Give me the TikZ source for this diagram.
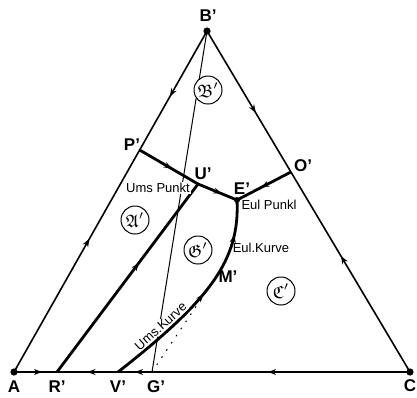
\documentclass[tikz,border=0pt]{standalone}
\usepackage{amsmath, amssymb}
\usepackage{fontspec}
\setmainfont{Liberation Sans}
\usepackage{tikz}
\usetikzlibrary{arrows.meta,calc,decorations.markings}

\begin{document}
\begin{tikzpicture}[x=0.5pt, y=-0.5pt, >=Stealth,
    rim/.style={line width=0.8pt},
    heavy/.style={line width=1.4pt},
    fine/.style={line width=0.5pt},
    flow/.style={postaction={decorate}, decoration={markings,
        mark=at position #1 with {\arrow{Stealth[length=4pt,width=3pt]}}}},
    twoflow/.style 2 args={postaction={decorate}, decoration={markings,
        mark=at position #1 with {\arrow{Stealth[length=4pt,width=3pt]}},
        mark=at position #2 with {\arrow{Stealth[length=4pt,width=3pt]}}}},
    pt/.style={font=\bfseries\fontsize{8.5}{9}\selectfont, inner sep=0.5pt},
    note/.style={font=\fontsize{6.5}{7}\selectfont, inner sep=0.5pt},
    region/.style={draw, circle, line width=0.5pt, fill=white, minimum size=14pt,
        inner sep=0pt, font=\fontsize{9}{9}\selectfont}]
    \useasboundingbox (0,0) rectangle (417,397);

    \coordinate (A) at (14,372);
    \coordinate (C) at (410,372);
    \coordinate (B) at (207,31);
    \coordinate (P) at ($(A)!0.651!(B)$);
    \coordinate (O) at ($(C)!0.5865!(B)$);
    \coordinate (U) at (198,184);
    \coordinate (E) at (237,200);
    \coordinate (R) at (57,372);
    \coordinate (V) at (118,372);
    \coordinate (G) at (152,372);

    \draw[fine] (B) -- (G);

    \draw[rim, flow=0.6] (A) -- (P);
    \draw[rim, flow=0.55] (B) -- (P);
    \draw[rim, flow=0.58] (B) -- (O);
    \draw[rim, flow=0.58] (C) -- (O);
    \draw[rim, flow=0.65] (A) -- (R);
    \draw[rim, flow=0.5] (V) -- (R);
    \draw[rim, flow=0.5] (G) -- (V);
    \draw[rim, flow=0.55] (C) -- (G);

    \draw[heavy, flow=0.58] (R) -- (U);
    \draw[heavy, flow=0.55] (P) -- (U);
    \draw[heavy, flow=0.6] (U) -- (E);
    \draw[heavy, flow=0.55] (O) -- (E);
    \draw[heavy, twoflow={0.53}{0.84}] (V) .. controls (210,300) and (240,260) ..
        node[pos=0.2, sloped, above=0.5pt, note, fill=white] (umskurve) {Ums.Kurve}
        coordinate[pos=0.47] (M) (E);
    \draw[fine, dash pattern=on 0.8pt off 3.5pt] (G) -- (M);

    \fill (A) circle (1.8pt);
    \fill (C) circle (1.8pt);
    \fill (B) circle (1.8pt);
    \fill (E) circle (1.5pt);
    \fill (U) circle (0.8pt);

    \node[region] (bb) at (208,90) {$\mathfrak{B}'$};
    \node[region] (aa) at (135,220) {$\mathfrak{A}'$};
    \node[region] (gg) at (198,250) {$\mathfrak{G}'$};
    \node[region] (cc) at (281,291) {$\mathfrak{C}'$};

    \node[pt] (lB) at (208,16) {B'};
    \node[pt] (lA) at (14,387) {A};
    \node[pt] (lC) at (410,386) {C};
    \node[pt] (lP) at (132,145) {P'};
    \node[pt] (lO) at (303,166) {O'};
    \node[pt] (lU) at (203,174) {U'};
    \node[pt] (lE) at (242,189) {E'};
    \node[pt] (lR) at (57,387) {R'};
    \node[pt] (lV) at (118,387) {V'};
    \node[pt] (lG) at (156,387) {G'};
    \node[pt] (lM) at (228,277) {M'};

    \node[note, fill=white] (umspunkt) at (158,188) {Ums Punkt};
    \node[note] (eulpunkt) at (269,205) {Eul Punkl};
    \node[note] (eulkurve) at (261,248) {Eul.Kurve};
\end{tikzpicture}
\end{document}
